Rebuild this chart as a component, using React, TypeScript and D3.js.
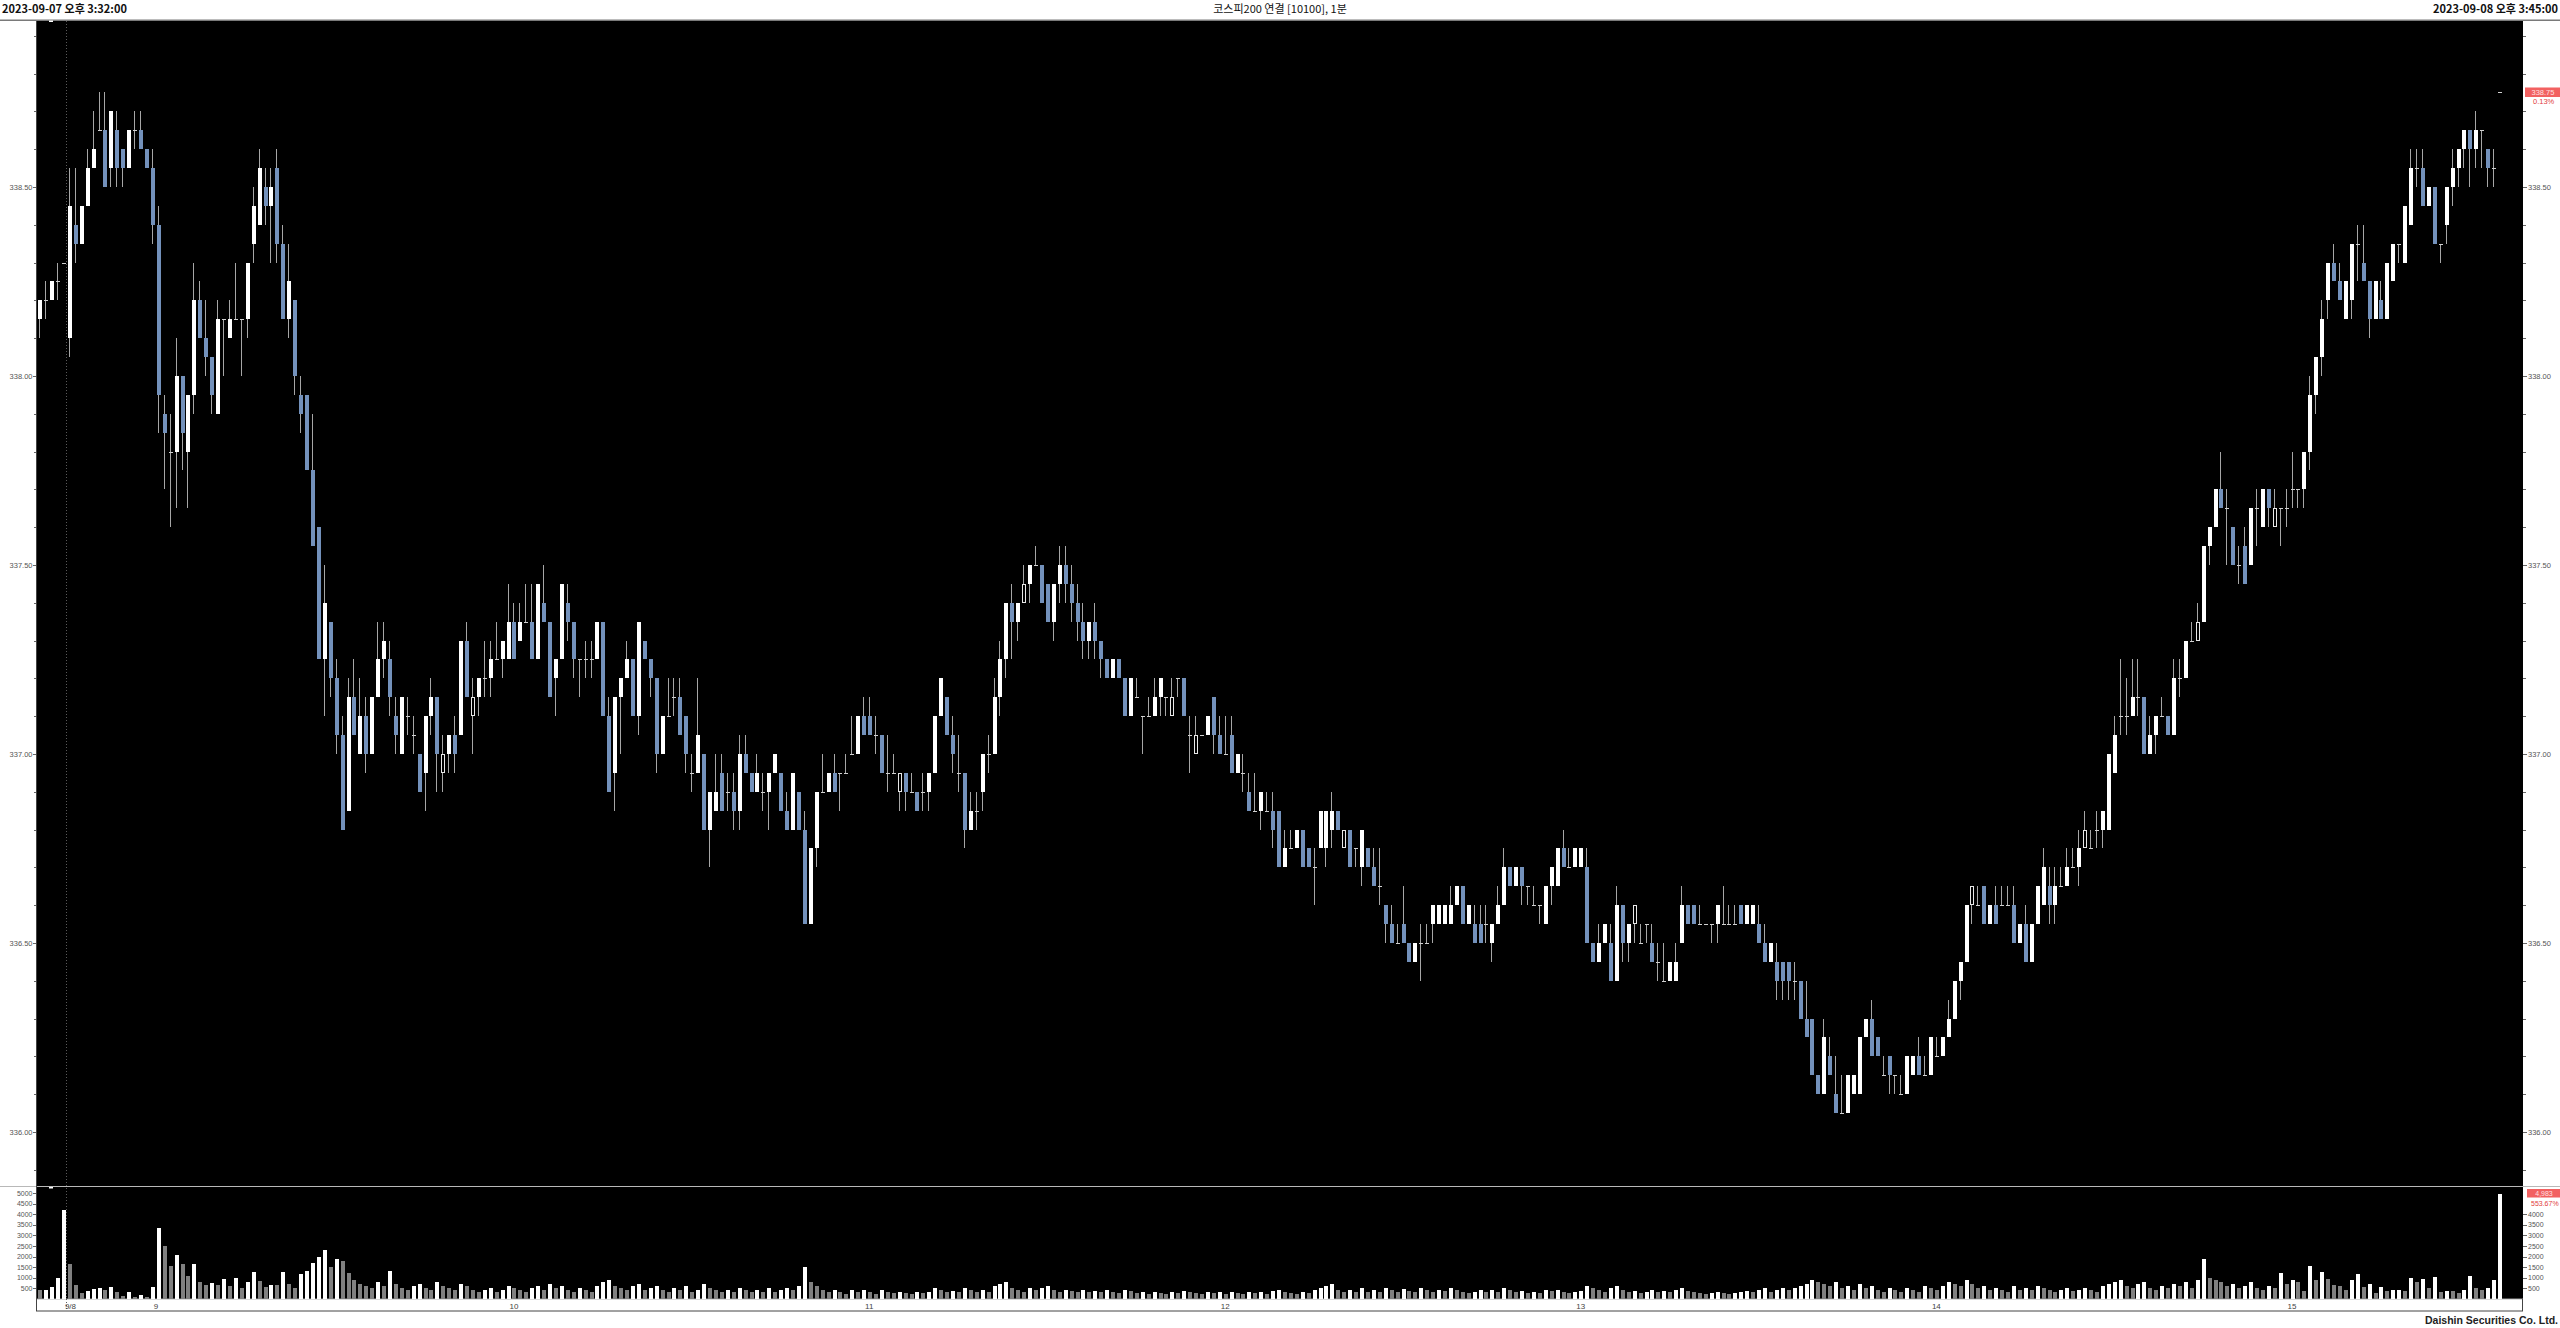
import React from "react";
import * as d3 from "d3";

// [open, high, low, close] per 1-minute candle
const CANDLES: [number, number, number, number][] = [
  [338.15, 338.2, 338.1, 338.2], [338.2, 338.25, 338.15, 338.2], [338.2, 338.25, 338.2, 338.25], [338.25, 338.3, 338.2, 338.25], [338.3, 338.3, 338.3, 338.3],
  [338.1, 338.55, 338.05, 338.45], [338.4, 338.55, 338.3, 338.35], [338.35, 338.45, 338.35, 338.45], [338.45, 338.6, 338.45, 338.55], [338.55, 338.7, 338.55, 338.6],
  [338.65, 338.75, 338.65, 338.65], [338.65, 338.75, 338.5, 338.5], [338.55, 338.7, 338.5, 338.7], [338.65, 338.7, 338.5, 338.55], [338.6, 338.6, 338.5, 338.55],
  [338.55, 338.65, 338.55, 338.65], [338.65, 338.7, 338.6, 338.65], [338.65, 338.7, 338.6, 338.6], [338.6, 338.6, 338.55, 338.55], [338.55, 338.6, 338.35, 338.4],
  [338.4, 338.45, 337.85, 337.95], [337.9, 337.95, 337.7, 337.85], [337.8, 337.9, 337.6, 337.8], [337.8, 338.1, 337.65, 338.0], [338.0, 338.0, 337.75, 337.85],
  [337.8, 337.95, 337.65, 337.95], [337.95, 338.3, 337.9, 338.2], [338.2, 338.25, 338.1, 338.1], [338.1, 338.2, 338.0, 338.05], [338.05, 338.05, 337.9, 337.95],
  [337.9, 338.2, 337.9, 338.15], [338.15, 338.15, 338.0, 338.15], [338.1, 338.2, 338.1, 338.15], [338.15, 338.3, 338.15, 338.15], [338.15, 338.15, 338.0, 338.15],
  [338.15, 338.3, 338.1, 338.3], [338.35, 338.5, 338.3, 338.45], [338.4, 338.6, 338.4, 338.55], [338.5, 338.55, 338.4, 338.45], [338.45, 338.55, 338.3, 338.5],
  [338.55, 338.6, 338.3, 338.35], [338.35, 338.4, 338.15, 338.15], [338.15, 338.35, 338.1, 338.25], [338.2, 338.2, 337.95, 338.0], [337.95, 338.0, 337.85, 337.9],
  [337.95, 337.95, 337.75, 337.75], [337.75, 337.9, 337.55, 337.55], [337.6, 337.6, 337.25, 337.25], [337.25, 337.5, 337.1, 337.4], [337.35, 337.35, 337.15, 337.2],
  [337.2, 337.25, 337.0, 337.05], [337.05, 337.1, 336.8, 336.8], [336.85, 337.2, 336.85, 337.15], [337.15, 337.25, 337.05, 337.05], [337.0, 337.2, 337.0, 337.1],
  [337.1, 337.15, 336.95, 337.0], [337.0, 337.15, 337.0, 337.15], [337.15, 337.35, 337.15, 337.25], [337.25, 337.35, 337.2, 337.3], [337.25, 337.3, 337.1, 337.15],
  [337.1, 337.15, 337.0, 337.05], [337.0, 337.15, 337.0, 337.15], [337.1, 337.15, 337.05, 337.1], [337.05, 337.1, 337.0, 337.05], [337.0, 337.0, 336.9, 336.9],
  [336.95, 337.1, 336.85, 337.1], [337.1, 337.2, 337.05, 337.15], [337.15, 337.15, 336.9, 337.0], [336.95, 337.05, 336.9, 337.0], [337.0, 337.05, 336.95, 337.05],
  [337.05, 337.1, 336.95, 337.0], [337.05, 337.3, 337.05, 337.3], [337.3, 337.35, 337.15, 337.15], [337.1, 337.2, 337.0, 337.15], [337.15, 337.2, 337.1, 337.2],
  [337.2, 337.3, 337.15, 337.2], [337.2, 337.3, 337.15, 337.25], [337.25, 337.35, 337.25, 337.25], [337.25, 337.3, 337.2, 337.3], [337.25, 337.45, 337.25, 337.35],
  [337.35, 337.4, 337.25, 337.25], [337.3, 337.4, 337.3, 337.35], [337.35, 337.45, 337.35, 337.35], [337.35, 337.45, 337.25, 337.25], [337.25, 337.45, 337.25, 337.45],
  [337.4, 337.5, 337.35, 337.35], [337.35, 337.35, 337.15, 337.15], [337.2, 337.25, 337.1, 337.25], [337.25, 337.45, 337.25, 337.45], [337.4, 337.45, 337.3, 337.35],
  [337.35, 337.35, 337.2, 337.25], [337.25, 337.25, 337.15, 337.25], [337.25, 337.3, 337.2, 337.25], [337.25, 337.3, 337.2, 337.25], [337.25, 337.35, 337.25, 337.35],
  [337.35, 337.35, 337.1, 337.1], [337.1, 337.15, 336.9, 336.9], [336.95, 337.15, 336.85, 337.15], [337.15, 337.2, 337.0, 337.2], [337.2, 337.3, 337.2, 337.25],
  [337.25, 337.25, 337.1, 337.1], [337.1, 337.35, 337.05, 337.35], [337.3, 337.3, 337.25, 337.25], [337.25, 337.25, 337.15, 337.2], [337.2, 337.2, 336.95, 337.0],
  [337.0, 337.1, 337.0, 337.1], [337.1, 337.2, 337.1, 337.1], [337.15, 337.2, 337.1, 337.15], [337.15, 337.2, 337.05, 337.05], [337.1, 337.1, 336.95, 337.0],
  [336.95, 337.0, 336.9, 336.95], [336.95, 337.2, 336.95, 337.05], [337.0, 337.0, 336.8, 336.8], [336.8, 336.9, 336.7, 336.9], [336.85, 337.0, 336.85, 336.9],
  [336.95, 337.0, 336.85, 336.85], [336.9, 336.95, 336.85, 336.9], [336.9, 336.95, 336.8, 336.85], [336.85, 337.05, 336.8, 337.0], [337.0, 337.05, 336.95, 336.95],
  [336.95, 336.95, 336.9, 336.9], [336.9, 337.0, 336.9, 336.95], [336.9, 336.95, 336.85, 336.9], [336.9, 336.95, 336.8, 336.95], [336.95, 337.0, 336.95, 337.0],
  [336.95, 336.95, 336.85, 336.85], [336.85, 336.9, 336.8, 336.8], [336.8, 336.95, 336.8, 336.95], [336.9, 336.9, 336.8, 336.8], [336.8, 336.85, 336.55, 336.55],
  [336.55, 336.75, 336.55, 336.75], [336.75, 336.9, 336.7, 336.9], [336.9, 337.0, 336.9, 336.9], [336.9, 336.95, 336.9, 336.95], [336.95, 337.0, 336.9, 336.9],
  [336.95, 336.95, 336.85, 336.95], [336.95, 337.0, 336.95, 336.95], [337.0, 337.1, 337.0, 337.0], [337.0, 337.1, 337.0, 337.1], [337.1, 337.15, 337.05, 337.05],
  [337.1, 337.15, 337.05, 337.05], [337.05, 337.1, 337.0, 337.05], [337.05, 337.05, 336.95, 336.95], [336.95, 337.05, 336.9, 336.95], [336.95, 337.0, 336.95, 336.95],
  [336.9, 336.95, 336.85, 336.95], [336.95, 336.95, 336.85, 336.9], [336.9, 336.95, 336.9, 336.9], [336.9, 336.9, 336.85, 336.85], [336.9, 336.95, 336.85, 336.9],
  [336.9, 336.95, 336.85, 336.95], [336.95, 337.1, 336.95, 337.1], [337.1, 337.2, 337.1, 337.2], [337.15, 337.15, 337.05, 337.05], [337.05, 337.1, 336.95, 337.0],
  [336.95, 337.05, 336.9, 336.95], [336.95, 336.95, 336.75, 336.8], [336.8, 336.9, 336.8, 336.85], [336.85, 336.9, 336.8, 336.85], [336.9, 337.0, 336.85, 337.0],
  [337.0, 337.05, 336.95, 337.0], [337.0, 337.2, 337.0, 337.15], [337.15, 337.3, 337.1, 337.25], [337.25, 337.4, 337.2, 337.4], [337.4, 337.45, 337.25, 337.35],
  [337.35, 337.4, 337.3, 337.4], [337.4, 337.5, 337.4, 337.45], [337.45, 337.5, 337.4, 337.5], [337.5, 337.55, 337.5, 337.5], [337.5, 337.5, 337.4, 337.4],
  [337.45, 337.45, 337.35, 337.35], [337.35, 337.45, 337.3, 337.45], [337.45, 337.55, 337.4, 337.5], [337.5, 337.55, 337.4, 337.45], [337.45, 337.5, 337.35, 337.4],
  [337.4, 337.45, 337.3, 337.35], [337.35, 337.4, 337.25, 337.3], [337.3, 337.35, 337.25, 337.35], [337.35, 337.4, 337.25, 337.3], [337.3, 337.3, 337.2, 337.25],
  [337.25, 337.25, 337.2, 337.2], [337.2, 337.25, 337.2, 337.25], [337.25, 337.25, 337.2, 337.2], [337.2, 337.2, 337.1, 337.1], [337.1, 337.2, 337.1, 337.2],
  [337.15, 337.2, 337.15, 337.15], [337.1, 337.1, 337.0, 337.1], [337.1, 337.15, 337.1, 337.1], [337.1, 337.2, 337.1, 337.15], [337.15, 337.2, 337.1, 337.2],
  [337.15, 337.15, 337.1, 337.15], [337.1, 337.2, 337.1, 337.15], [337.2, 337.2, 337.15, 337.2], [337.2, 337.2, 337.1, 337.1], [337.05, 337.1, 336.95, 337.05],
  [337.0, 337.1, 337.0, 337.05], [337.05, 337.05, 337.05, 337.05], [337.05, 337.1, 337.05, 337.1], [337.15, 337.15, 337.0, 337.05], [337.05, 337.1, 337.0, 337.0],
  [337.0, 337.1, 337.0, 337.0], [337.05, 337.1, 336.95, 336.95], [336.95, 337.0, 336.95, 337.0], [336.95, 337.0, 336.9, 336.95], [336.9, 336.95, 336.85, 336.85],
  [336.85, 336.95, 336.85, 336.85], [336.85, 336.9, 336.8, 336.9], [336.85, 336.9, 336.85, 336.85], [336.85, 336.9, 336.75, 336.8], [336.85, 336.85, 336.7, 336.7],
  [336.7, 336.8, 336.7, 336.75], [336.75, 336.8, 336.75, 336.75], [336.75, 336.8, 336.75, 336.8], [336.8, 336.8, 336.7, 336.7], [336.75, 336.75, 336.7, 336.7],
  [336.7, 336.75, 336.6, 336.7], [336.75, 336.85, 336.75, 336.85], [336.75, 336.85, 336.7, 336.85], [336.8, 336.9, 336.75, 336.85], [336.85, 336.85, 336.8, 336.8],
  [336.75, 336.8, 336.75, 336.8], [336.8, 336.8, 336.7, 336.7], [336.75, 336.75, 336.7, 336.75], [336.7, 336.8, 336.65, 336.8], [336.75, 336.75, 336.7, 336.7],
  [336.7, 336.75, 336.65, 336.65], [336.65, 336.75, 336.6, 336.65], [336.6, 336.6, 336.5, 336.55], [336.55, 336.6, 336.5, 336.5], [336.5, 336.55, 336.5, 336.5],
  [336.55, 336.65, 336.5, 336.5], [336.5, 336.5, 336.45, 336.45], [336.45, 336.5, 336.45, 336.5], [336.5, 336.55, 336.4, 336.5], [336.5, 336.55, 336.5, 336.5],
  [336.55, 336.6, 336.5, 336.6], [336.55, 336.6, 336.55, 336.6], [336.55, 336.6, 336.55, 336.6], [336.55, 336.65, 336.55, 336.6], [336.6, 336.65, 336.6, 336.65],
  [336.65, 336.65, 336.55, 336.55], [336.55, 336.6, 336.55, 336.6], [336.55, 336.6, 336.5, 336.5], [336.55, 336.6, 336.5, 336.5], [336.55, 336.6, 336.5, 336.55],
  [336.5, 336.55, 336.45, 336.55], [336.55, 336.65, 336.55, 336.6], [336.6, 336.75, 336.6, 336.7], [336.7, 336.7, 336.65, 336.65], [336.65, 336.7, 336.65, 336.7],
  [336.7, 336.7, 336.6, 336.65], [336.65, 336.65, 336.6, 336.65], [336.6, 336.65, 336.6, 336.6], [336.6, 336.6, 336.55, 336.6], [336.55, 336.65, 336.55, 336.65],
  [336.65, 336.7, 336.6, 336.7], [336.65, 336.75, 336.65, 336.75], [336.75, 336.8, 336.7, 336.7], [336.7, 336.75, 336.7, 336.7], [336.7, 336.75, 336.7, 336.75],
  [336.7, 336.75, 336.7, 336.75], [336.7, 336.75, 336.5, 336.5], [336.5, 336.5, 336.45, 336.45], [336.45, 336.55, 336.45, 336.5], [336.5, 336.55, 336.5, 336.55],
  [336.5, 336.55, 336.4, 336.4], [336.4, 336.65, 336.4, 336.6], [336.6, 336.6, 336.45, 336.5], [336.5, 336.55, 336.45, 336.55], [336.55, 336.6, 336.5, 336.6],
  [336.5, 336.55, 336.5, 336.5], [336.55, 336.55, 336.5, 336.55], [336.5, 336.55, 336.45, 336.45], [336.45, 336.5, 336.4, 336.45], [336.4, 336.5, 336.4, 336.4],
  [336.4, 336.45, 336.4, 336.45], [336.4, 336.5, 336.4, 336.45], [336.5, 336.65, 336.5, 336.6], [336.6, 336.6, 336.55, 336.55], [336.6, 336.6, 336.55, 336.55],
  [336.55, 336.6, 336.55, 336.55], [336.55, 336.55, 336.55, 336.55], [336.55, 336.55, 336.5, 336.55], [336.55, 336.6, 336.5, 336.6], [336.55, 336.65, 336.55, 336.55],
  [336.55, 336.6, 336.55, 336.55], [336.55, 336.6, 336.55, 336.55], [336.6, 336.6, 336.55, 336.55], [336.55, 336.6, 336.55, 336.6], [336.55, 336.6, 336.55, 336.6],
  [336.55, 336.6, 336.5, 336.5], [336.5, 336.55, 336.45, 336.45], [336.45, 336.5, 336.45, 336.5], [336.45, 336.5, 336.35, 336.4], [336.45, 336.45, 336.35, 336.4],
  [336.45, 336.45, 336.35, 336.4], [336.4, 336.45, 336.35, 336.4], [336.4, 336.4, 336.3, 336.3], [336.3, 336.4, 336.25, 336.25], [336.3, 336.3, 336.15, 336.15],
  [336.15, 336.15, 336.1, 336.1], [336.1, 336.3, 336.1, 336.25], [336.2, 336.25, 336.15, 336.15], [336.1, 336.2, 336.05, 336.05], [336.05, 336.15, 336.05, 336.05],
  [336.05, 336.15, 336.05, 336.15], [336.1, 336.15, 336.1, 336.15], [336.1, 336.25, 336.1, 336.25], [336.25, 336.3, 336.25, 336.3], [336.3, 336.35, 336.2, 336.2],
  [336.25, 336.25, 336.2, 336.2], [336.15, 336.2, 336.15, 336.15], [336.2, 336.2, 336.1, 336.15], [336.15, 336.15, 336.1, 336.15], [336.1, 336.15, 336.1, 336.1],
  [336.1, 336.2, 336.1, 336.2], [336.15, 336.2, 336.15, 336.2], [336.2, 336.25, 336.15, 336.15], [336.15, 336.2, 336.15, 336.15], [336.15, 336.25, 336.15, 336.25],
  [336.2, 336.25, 336.2, 336.2], [336.2, 336.25, 336.2, 336.25], [336.25, 336.35, 336.25, 336.3], [336.3, 336.4, 336.3, 336.4], [336.4, 336.45, 336.35, 336.45],
  [336.45, 336.6, 336.45, 336.6], [336.6, 336.65, 336.55, 336.65], [336.6, 336.65, 336.6, 336.6], [336.65, 336.65, 336.55, 336.55], [336.55, 336.6, 336.55, 336.6],
  [336.6, 336.65, 336.55, 336.55], [336.6, 336.65, 336.6, 336.6], [336.6, 336.65, 336.6, 336.6], [336.6, 336.65, 336.5, 336.5], [336.5, 336.55, 336.5, 336.55],
  [336.55, 336.6, 336.45, 336.45], [336.45, 336.55, 336.45, 336.55], [336.55, 336.65, 336.55, 336.65], [336.6, 336.75, 336.6, 336.7], [336.65, 336.7, 336.55, 336.6],
  [336.6, 336.7, 336.55, 336.65], [336.65, 336.7, 336.65, 336.65], [336.65, 336.75, 336.65, 336.7], [336.7, 336.75, 336.7, 336.7], [336.7, 336.8, 336.65, 336.75],
  [336.75, 336.85, 336.75, 336.8], [336.75, 336.8, 336.75, 336.75], [336.8, 336.85, 336.75, 336.8], [336.8, 336.85, 336.75, 336.85], [336.8, 337.0, 336.8, 337.0],
  [336.95, 337.1, 336.95, 337.05], [337.1, 337.25, 337.05, 337.1], [337.1, 337.2, 337.05, 337.1], [337.1, 337.25, 337.1, 337.15], [337.15, 337.25, 337.1, 337.15],
  [337.15, 337.15, 337.0, 337.0], [337.0, 337.1, 337.0, 337.05], [337.05, 337.1, 337.0, 337.1], [337.1, 337.15, 337.1, 337.1], [337.1, 337.1, 337.05, 337.05],
  [337.05, 337.25, 337.05, 337.2], [337.2, 337.25, 337.15, 337.2], [337.2, 337.3, 337.2, 337.3], [337.3, 337.35, 337.3, 337.3], [337.3, 337.4, 337.3, 337.35],
  [337.35, 337.55, 337.35, 337.55], [337.55, 337.6, 337.5, 337.6], [337.6, 337.7, 337.6, 337.7], [337.7, 337.8, 337.65, 337.65], [337.65, 337.7, 337.5, 337.65],
  [337.6, 337.6, 337.5, 337.5], [337.5, 337.55, 337.45, 337.5], [337.55, 337.6, 337.45, 337.45], [337.5, 337.65, 337.5, 337.65], [337.65, 337.7, 337.55, 337.65],
  [337.6, 337.7, 337.6, 337.7], [337.7, 337.7, 337.6, 337.65], [337.6, 337.7, 337.6, 337.65], [337.65, 337.65, 337.55, 337.65], [337.65, 337.7, 337.6, 337.65],
  [337.7, 337.8, 337.65, 337.7], [337.7, 337.7, 337.65, 337.7], [337.7, 337.8, 337.65, 337.8], [337.8, 338.0, 337.75, 337.95], [337.95, 338.05, 337.9, 338.05],
  [338.05, 338.2, 338.0, 338.15], [338.2, 338.3, 338.15, 338.3], [338.3, 338.35, 338.25, 338.25], [338.25, 338.3, 338.2, 338.2], [338.15, 338.25, 338.15, 338.25],
  [338.2, 338.35, 338.15, 338.35], [338.35, 338.4, 338.25, 338.35], [338.3, 338.4, 338.25, 338.25], [338.25, 338.25, 338.1, 338.15], [338.15, 338.25, 338.15, 338.25],
  [338.2, 338.25, 338.15, 338.15], [338.15, 338.3, 338.15, 338.3], [338.25, 338.35, 338.25, 338.35], [338.35, 338.35, 338.3, 338.35], [338.3, 338.45, 338.3, 338.45],
  [338.4, 338.6, 338.4, 338.55], [338.55, 338.6, 338.5, 338.55], [338.55, 338.6, 338.45, 338.45], [338.45, 338.5, 338.45, 338.5], [338.5, 338.5, 338.35, 338.35],
  [338.35, 338.35, 338.3, 338.35], [338.4, 338.5, 338.35, 338.5], [338.5, 338.6, 338.45, 338.55], [338.55, 338.6, 338.5, 338.6], [338.6, 338.65, 338.55, 338.65],
  [338.65, 338.65, 338.5, 338.6], [338.6, 338.7, 338.55, 338.65], [338.65, 338.65, 338.55, 338.65], [338.6, 338.6, 338.5, 338.55], [338.55, 338.6, 338.5, 338.55],
  [338.75, 338.75, 338.75, 338.75],
];

const VOLUMES: number[] = [
  390, 410, 540, 1000, 4190, 1650, 630, 250, 380, 460, 490, 410, 540, 300, 130, 320, 100, 170, 80, 550,
  3370, 2500, 1530, 2090, 1650, 1080, 1630, 775, 630, 740, 650, 950, 600, 1000, 490, 775, 1250, 840, 550, 630,
  630, 1250, 700, 520, 1150, 1300, 1700, 2000, 2300, 1500, 1900, 1800, 1200, 900, 700, 600, 500, 800, 600, 1300,
  700, 500, 400, 600, 700, 500, 400, 800, 600, 500, 400, 700, 600, 400, 300, 400, 500, 300, 400, 600,
  500, 400, 300, 500, 600, 400, 700, 500, 600, 400, 300, 500, 400, 300, 600, 800, 900, 600, 500, 400,
  600, 700, 400, 500, 600, 400, 300, 500, 400, 600, 300, 400, 700, 500, 400, 300, 400, 300, 500, 400,
  300, 400, 300, 500, 300, 400, 500, 400, 600, 1500, 800, 600, 400, 300, 400, 300, 200, 400, 300, 400,
  300, 200, 400, 300, 250, 300, 250, 200, 300, 250, 300, 500, 400, 300, 350, 300, 500, 400, 300, 400,
  300, 600, 700, 800, 500, 400, 300, 500, 400, 500, 600, 400, 300, 400, 350, 300, 400, 300, 350, 300,
  400, 300, 250, 400, 350, 250, 300, 200, 300, 250, 200, 300, 250, 350, 300, 250, 200, 300, 250, 300,
  200, 300, 250, 200, 300, 250, 300, 200, 350, 400, 300, 250, 200, 300, 250, 400, 500, 600, 700, 400,
  300, 400, 300, 500, 300, 400, 300, 500, 400, 300, 450, 350, 300, 500, 400, 300, 400, 350, 500, 400,
  300, 250, 300, 400, 300, 400, 300, 500, 400, 300, 350, 250, 300, 250, 400, 350, 400, 300, 250, 300,
  350, 600, 500, 400, 300, 500, 600, 400, 300, 350, 250, 300, 400, 300, 350, 300, 400, 500, 350, 300,
  250, 200, 250, 300, 250, 200, 250, 300, 350, 300, 400, 500, 300, 400, 500, 400, 500, 600, 700, 900,
  800, 700, 600, 800, 500, 600, 400, 700, 500, 600, 400, 300, 500, 400, 300, 500, 400, 300, 600, 500,
  400, 600, 800, 700, 600, 900, 700, 500, 600, 400, 500, 400, 300, 600, 400, 500, 400, 600, 500, 400,
  300, 400, 500, 350, 400, 500, 400, 300, 600, 700, 800, 900, 600, 500, 700, 800, 500, 400, 600, 500,
  700, 600, 800, 500, 900, 1900, 1000, 900, 800, 600, 700, 500, 600, 800, 500, 400, 600, 500, 1200, 700,
  900, 800, 360, 1550, 890, 1250, 930, 630, 600, 410, 890, 1190, 550, 700, 280, 550, 360, 400, 430, 350,
  965, 790, 930, 490, 1030, 320, 360, 350, 250, 410, 1075, 490, 410, 500, 900, 4983,
];

const HOLLOW: number[] = [68, 73, 145, 166, 191, 195, 220, 269, 326, 345, 364, 377];
const DAY_LABELS: { i: number; t: string }[] = [
  { i: 5, t: "9/8" }, { i: 20, t: "9" }, { i: 80, t: "10" }, { i: 140, t: "11" },
  { i: 200, t: "12" }, { i: 260, t: "13" }, { i: 320, t: "14" }, { i: 380, t: "15" },
];
const PRICE_LABELS: number[] = [336.0, 336.5, 337.0, 337.5, 338.0, 338.5];
const VOL_LABELS_LEFT: number[] = [500, 1000, 1500, 2000, 2500, 3000, 3500, 4000, 4500, 5000];
const VOL_LABELS_RIGHT: number[] = [500, 1000, 1500, 2000, 2500, 3000, 3500, 4000];
const HEADER_LEFT = "2023-09-07 오후 3:32:00";
const HEADER_TITLE = "코스피200 연결 [10100], 1분";
const HEADER_RIGHT = "2023-09-08 오후 3:45:00";
const FOOTER = "Daishin Securities Co. Ltd.";
const LAST_PRICE = "338.75";
const LAST_CHANGE = "0.13%";
const LAST_VOLUME = "4,983";
const VOLUME_CHANGE = "553.67%";

export default function App() {
  const W = 2560, H = 1328;
  const L = 36, R = 2523, T = 21, MB = 1186, VT = 1187, VB = 1298.7, AB = 1311;
  const n = CANDLES.length;
  const x = d3.scaleLinear().domain([0, n - 1]).range([39.3, 2499]);
  const y = d3.scaleLinear().domain([335.857, 338.939]).range([MB, T]);
  const yv = d3.scaleLinear().domain([0, 5000]).range([VB, 1193.3]);
  const fmt = d3.format(".2f");
  const minor = d3.range(3359, 3390).map((v) => v / 10);
  const hollow = new Set(HOLLOW);
  const axisFont = "'Liberation Sans', Arial, sans-serif";
  const korFont = "'Noto Sans CJK KR', 'Noto Sans', sans-serif";
  const BLUE = "#7391bb";
  const WICK = "#a6a6a6";
  const px = (i: number) => Math.round(x(i));
  const dayX = Math.round((x(4) + x(5)) / 2) + 0.5;

  return (
    <div style={{ position: "absolute", left: 0, top: 0, width: W, height: H, background: "#fff" }}>
      <svg width={W} height={H} style={{ display: "block" }}>
        <rect x={0} y={0} width={W} height={H} fill="#ffffff" />
        {/* header */}
        <text x={2} y={13} fontFamily={korFont} fontWeight="bold" fontSize={11} fill="#111">{HEADER_LEFT}</text>
        <text x={1280} y={13} fontFamily={korFont} fontSize={11} fill="#111" textAnchor="middle">{HEADER_TITLE}</text>
        <text x={2558} y={13} fontFamily={korFont} fontWeight="bold" fontSize={11} fill="#111" textAnchor="end">{HEADER_RIGHT}</text>
        <rect x={0} y={19.5} width={W} height={1.5} fill="#7a7a7a" />

        {/* panels */}
        <rect x={L} y={T} width={R - L} height={MB - T} fill="#000" />
        <rect x={L} y={VT} width={R - L} height={VB - VT} fill="#000" />
        <line x1={0} x2={W} y1={MB + 0.5} y2={MB + 0.5} stroke="#b8b8b8" strokeWidth={1} />
        <rect x={L + 0.5} y={VB} width={R - L - 1} height={AB - VB} fill="#fff" stroke="#444" strokeWidth={1} />
        <line x1={L + 0.5} x2={L + 0.5} y1={T} y2={AB} stroke="#444" strokeWidth={1} />

        {/* day divider */}
        <line x1={dayX} x2={dayX} y1={T} y2={AB} stroke="#5a5a5a" strokeWidth={1} strokeDasharray="1,2" />

        {/* price axes */}
        <g fontFamily={axisFont} fontSize={7.5} fill="#555">
          {minor.map((v, k) => {
            const major = Math.abs(v * 2 - Math.round(v * 2)) < 1e-6;
            const yy = Math.round(y(v)) + 0.5;
            return (
              <g key={k}>
                <line x1={major ? 33 : 34} x2={L} y1={yy} y2={yy} stroke="#666" />
                <line x1={R} x2={major ? R + 4 : R + 3} y1={yy} y2={yy} stroke="#666" />
              </g>
            );
          })}
          {PRICE_LABELS.map((v) => (
            <g key={v}>
              <text x={32.5} y={y(v) + 2.6} textAnchor="end">{fmt(v)}</text>
              <text x={R + 5} y={y(v) + 2.6}>{fmt(v)}</text>
            </g>
          ))}
        </g>

        {/* volume axes */}
        <g fontFamily={axisFont} fontSize={7} fill="#555">
          {VOL_LABELS_LEFT.map((v) => (
            <g key={v}>
              <line x1={33} x2={L} y1={Math.round(yv(v)) + 0.5} y2={Math.round(yv(v)) + 0.5} stroke="#666" />
              <text x={32.5} y={yv(v) + 2.5} textAnchor="end">{v}</text>
            </g>
          ))}
          {VOL_LABELS_RIGHT.map((v) => (
            <g key={v}>
              <line x1={R} x2={R + 4} y1={Math.round(yv(v)) + 0.5} y2={Math.round(yv(v)) + 0.5} stroke="#666" />
              <text x={R + 5} y={yv(v) + 2.5}>{v}</text>
            </g>
          ))}
        </g>

        {/* candles */}
        <g shapeRendering="crispEdges">
          {CANDLES.map(([o, h, l, c], i) => {
            const cx = px(i);
            const top = y(Math.max(o, c));
            const bot = y(Math.min(o, c));
            const doji = o === c;
            const up = c > o;
            return (
              <g key={i}>
                {h !== l && <line x1={cx + 0.5} x2={cx + 0.5} y1={y(h)} y2={y(l)} stroke={WICK} strokeWidth={1} />}
                {doji ? (
                  <rect x={cx - 1.5} y={Math.round(top)} width={4} height={1} fill="#d0d0d0" />
                ) : hollow.has(i) ? (
                  <rect x={cx - 1} y={top + 0.5} width={3} height={bot - top - 1} fill="#000" stroke="#e8e8e8" strokeWidth={1} />
                ) : (
                  <rect x={cx - 1.5} y={top} width={4} height={bot - top} fill={up ? "#ffffff" : BLUE} />
                )}
              </g>
            );
          })}
        </g>

        {/* volume bars */}
        <g shapeRendering="crispEdges">
          {VOLUMES.map((v, i) => {
            const prev = i > 0 ? VOLUMES[i - 1] : Infinity;
            const cx = px(i);
            return (
              <rect key={i} x={cx - 1.5} y={yv(v)} width={4} height={VB - yv(v)} fill={v > prev ? "#ffffff" : "#808080"} />
            );
          })}
        </g>

        {/* small markers */}
        <rect x={49} y={20.5} width={4} height={1.5} fill="#fff" />
        <rect x={49} y={1187} width={4} height={1.5} fill="#fff" />

        {/* last price badge */}
        <rect x={R + 2} y={87.5} width={W - R - 2} height={9.5} fill="#f26161" />
        <text x={R + 20} y={95} fontFamily={axisFont} fontSize={7.5} fill="#ffe0e0" textAnchor="middle">{LAST_PRICE}</text>
        <text x={R + 10} y={104} fontFamily={axisFont} fontSize={7.5} fill="#e23c3c">{LAST_CHANGE}</text>
        <rect x={R + 4} y={1189} width={W - R - 4} height={8.5} fill="#f26161" />
        <text x={R + 21} y={1196} fontFamily={axisFont} fontSize={7} fill="#ffe0e0" textAnchor="middle">{LAST_VOLUME}</text>
        <text x={R + 8} y={1206} fontFamily={axisFont} fontSize={7} fill="#e23c3c">{VOLUME_CHANGE}</text>

        {/* day labels */}
        <g fontFamily={axisFont} fontSize={8} fill="#444">
          {DAY_LABELS.map((d) => (
            <text key={d.t} x={x(d.i) - 4} y={1309}>{d.t}</text>
          ))}
        </g>

        <text x={2558} y={1324} fontFamily={axisFont} fontWeight="bold" fontSize={10.5} fill="#222" textAnchor="end">{FOOTER}</text>
      </svg>
    </div>
  );
}
